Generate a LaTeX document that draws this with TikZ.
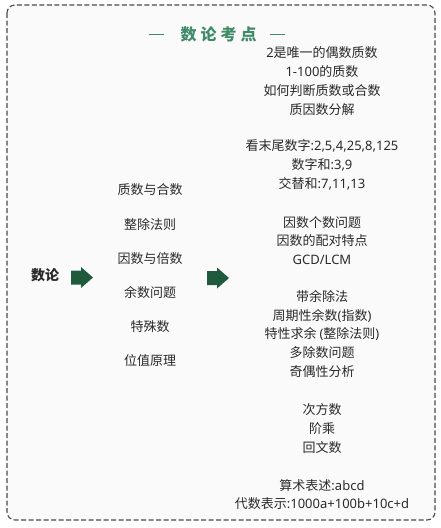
\documentclass[tikz,border=0pt]{standalone}
\usepackage{fontspec}
\setmainfont{Noto Sans CJK SC}
\newfontfamily\latinfont{Noto Sans}
\newcommand{\lt}[1]{{\latinfont #1}}
\definecolor{txt}{HTML}{2A2A2A}
\definecolor{titlegreen}{HTML}{3F8A68}
\definecolor{arrowgreen}{HTML}{1F5A3D}
\definecolor{bgpanel}{HTML}{FAFAFA}
\definecolor{bordergray}{HTML}{4A4A4A}
\tikzset{
  panel/.style={draw=bordergray, line width=1.1pt, dash pattern=on 5pt off 2.5pt, rounded corners=8pt, fill=bgpanel},
  item/.style={text=txt, font=\fontsize{13}{18.7}\selectfont, align=center, inner sep=0pt},
  rootlabel/.style={text=txt, font=\fontsize{14}{16}\selectfont\bfseries, inner sep=0pt},
  titlelabel/.style={text=titlegreen, font=\fontsize{16}{18}\selectfont\bfseries, inner sep=0pt},
  blockarrow/.pic={\fill[arrowgreen] (-11,-7) -- (-1,-7) -- (-1,-10.5) -- (11,0) -- (-1,10.5) -- (-1,7) -- (-11,7) -- cycle;}
}
\begin{document}
\begin{tikzpicture}[x=1pt, y=-1pt]
\useasboundingbox (0,0) rectangle (441,528);
\fill[white] (0,0) rectangle (441,528);
\draw[panel] (7,5) rectangle (435,520);
\node[titlelabel] (title) at (216.5,34) {\rule[0.3em]{15pt}{1.6pt}\hspace{17pt}数\hspace{4pt}论\hspace{4pt}考\hspace{4pt}点\hspace{13pt}\rule[0.3em]{15pt}{1.6pt}};
\node[rootlabel] (root) at (45,275) {数论};
\coordinate (a1) at (82,277.5);
\pic at (a1) {blockarrow};
\node[item] (m1) at (150,190) {质数与合数};
\node[item] (m2) at (150,225) {整除法则};
\node[item] (m3) at (150,259) {因数与倍数};
\node[item] (m4) at (150,293) {余数问题};
\node[item] (m5) at (150,327) {特殊数};
\node[item] (m6) at (150,361) {位值原理};
\coordinate (a2) at (218,278);
\pic at (a2) {blockarrow};
\node[item] (r1) at (322,81) {\lt{2}是唯一的偶数质数\\\lt{1-100}的质数\\如何判断质数或合数\\质因数分解};
\node[item] (r2) at (322,165) {看末尾数字\lt{:2,5,4,25,8,125}\\数字和\lt{:3,9}\\交替和\lt{:7,11,13}};
\node[item] (r3) at (322,240.5) {因数个数问题\\因数的配对特点\\\lt{GCD/LCM}};
\node[item] (r4) at (322,334) {带余除法\\周期性余数\lt{(}指数\lt{)}\\特性求余 \lt{(}整除法则\lt{)}\\多除数问题\\奇偶性分析};
\node[item] (r5) at (322,428.5) {次方数\\阶乘\\回文数};
\node[item] (r6) at (322,494.5) {算术表述\lt{:abcd}\\代数表示\lt{:1000a+100b+10c+d}};
\end{tikzpicture}
\end{document}
